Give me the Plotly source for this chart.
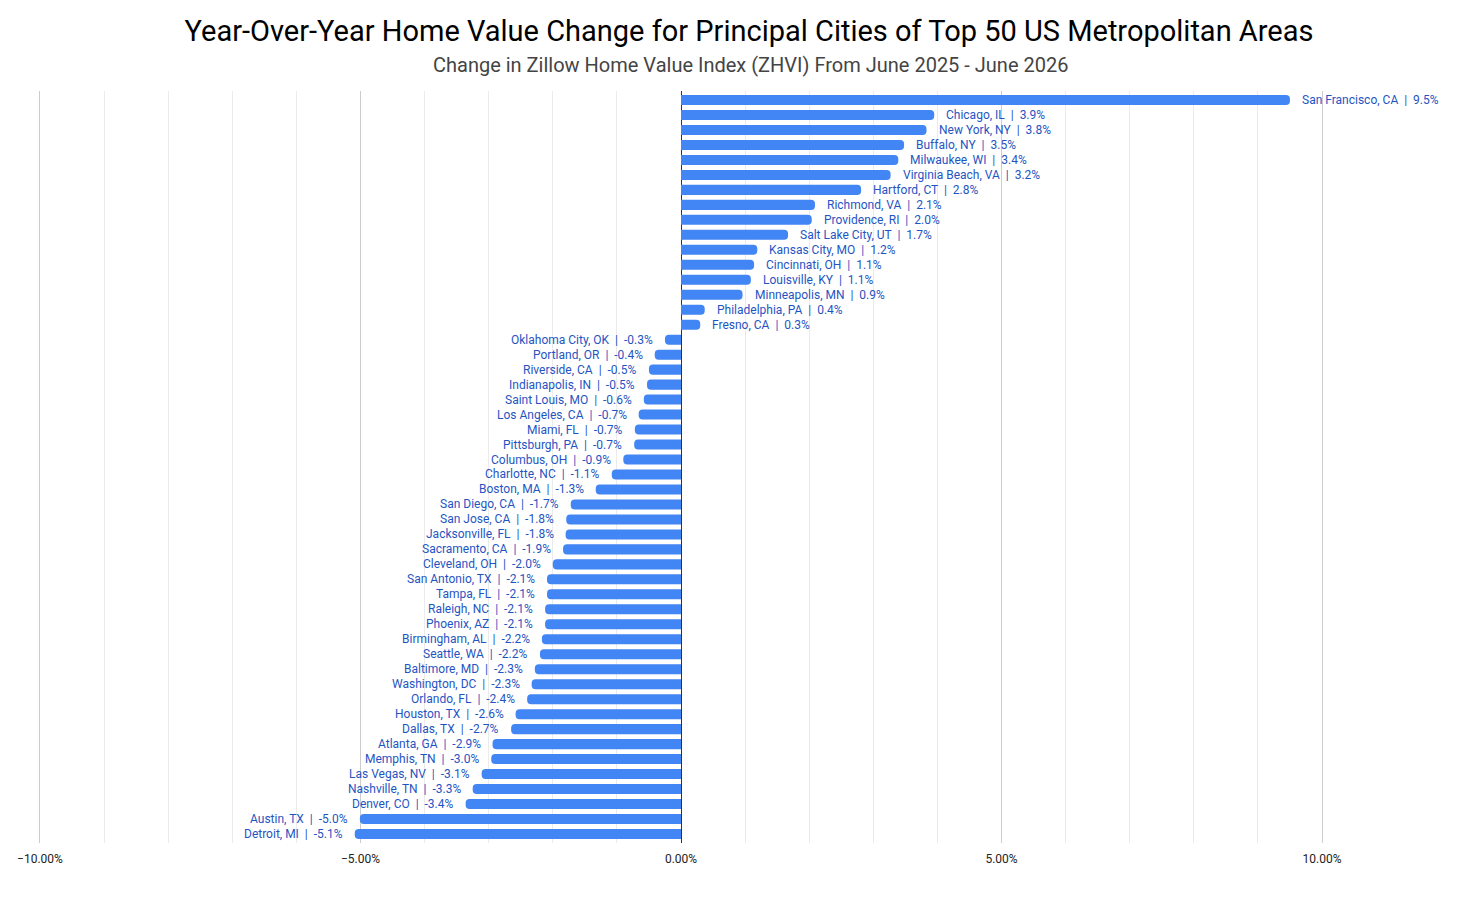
import plotly.graph_objects as go

cities = [
    "San Francisco, CA", "Chicago, IL", "New York, NY", "Buffalo, NY", "Milwaukee, WI",
    "Virginia Beach, VA", "Hartford, CT", "Richmond, VA", "Providence, RI", "Salt Lake City, UT",
    "Kansas City, MO", "Cincinnati, OH", "Louisville, KY", "Minneapolis, MN", "Philadelphia, PA",
    "Fresno, CA", "Oklahoma City, OK", "Portland, OR", "Riverside, CA", "Indianapolis, IN",
    "Saint Louis, MO", "Los Angeles, CA", "Miami, FL", "Pittsburgh, PA", "Columbus, OH",
    "Charlotte, NC", "Boston, MA", "San Diego, CA", "San Jose, CA", "Jacksonville, FL",
    "Sacramento, CA", "Cleveland, OH", "San Antonio, TX", "Tampa, FL", "Raleigh, NC",
    "Phoenix, AZ", "Birmingham, AL", "Seattle, WA", "Baltimore, MD", "Washington, DC",
    "Orlando, FL", "Houston, TX", "Dallas, TX", "Atlanta, GA", "Memphis, TN",
    "Las Vegas, NV", "Nashville, TN", "Denver, CO", "Austin, TX", "Detroit, MI",
]

# bar lengths (percent)
values = [
    9.50, 3.95, 3.83, 3.48, 3.39,
    3.27, 2.81, 2.09, 2.04, 1.67,
    1.19, 1.14, 1.09, 0.96, 0.37,
    0.30, -0.25, -0.41, -0.50, -0.53,
    -0.58, -0.66, -0.72, -0.73, -0.90,
    -1.08, -1.33, -1.72, -1.79, -1.80,
    -1.84, -2.00, -2.09, -2.09, -2.12,
    -2.12, -2.17, -2.20, -2.28, -2.33,
    -2.40, -2.58, -2.65, -2.94, -2.96,
    -3.11, -3.25, -3.36, -5.01, -5.09,
]

# displayed label percents
labels_pct = [
    "9.5", "3.9", "3.8", "3.5", "3.4",
    "3.2", "2.8", "2.1", "2.0", "1.7",
    "1.2", "1.1", "1.1", "0.9", "0.4",
    "0.3", "-0.3", "-0.4", "-0.5", "-0.5",
    "-0.6", "-0.7", "-0.7", "-0.7", "-0.9",
    "-1.1", "-1.3", "-1.7", "-1.8", "-1.8",
    "-1.9", "-2.0", "-2.1", "-2.1", "-2.1",
    "-2.1", "-2.2", "-2.2", "-2.3", "-2.3",
    "-2.4", "-2.6", "-2.7", "-2.9", "-3.0",
    "-3.1", "-3.3", "-3.4", "-5.0", "-5.1",
]

title = "Year-Over-Year Home Value Change for Principal Cities of Top 50 US Metropolitan Areas"
subtitle = "Change in Zillow Home Value Index (ZHVI) From June 2025 - June 2026"

BAR = "#4285F4"
LBL = "#1f55c2"
W, H = 1483, 909
ML, MR, MT, MB = 40, 161, 91, 66

fig = go.Figure()
fig.add_trace(go.Bar(
    x=values, y=cities, orientation="h",
    marker=dict(color=BAR, line=dict(width=0), cornerradius=4),
    hoverinfo="x+y",
))

for c, v, p in zip(cities, values, labels_pct):
    fig.add_annotation(
        x=v, y=c, xref="x", yref="y",
        text=f"{c}  |  {p}%",
        showarrow=False,
        xanchor="left" if v >= 0 else "right",
        xshift=10 if v >= 0 else -10,
        font=dict(family="Roboto", size=12, color=LBL),
    )

pw, ph = W - ML - MR, H - MT - MB
fig.add_annotation(
    x=(750 - ML) / pw, y=(H - 65 - MB) / ph, xref="paper", yref="paper",
    text=subtitle, showarrow=False, xanchor="center", yanchor="middle",
    font=dict(family="Roboto", size=20, color="#444444"),
)

fig.update_layout(
    width=W, height=H,
    margin=dict(l=ML, r=MR, t=MT, b=MB),
    paper_bgcolor="white", plot_bgcolor="white",
    bargap=0.33,
    showlegend=False,
    font=dict(family="Roboto", color="#222222"),
    title=dict(
        text=title, x=749 / W, xref="container", xanchor="center",
        y=1 - 31 / H, yref="container", yanchor="middle",
        font=dict(family="Roboto", size=29, color="#000000"),
    ),
)

fig.update_xaxes(
    range=[-10, 10], dtick=5, tick0=0,
    tickformat=".2f", ticksuffix="%",
    tickfont=dict(family="Roboto", size=12, color="#222222"),
    ticklabelstandoff=7,
    showgrid=True, gridcolor="#cccccc", gridwidth=1,
    minor=dict(dtick=1, showgrid=True, gridcolor="#ebebeb", gridwidth=1),
    zeroline=True, zerolinecolor="#333333", zerolinewidth=1,
    showline=False, ticks="", fixedrange=True,
)
fig.update_yaxes(
    categoryorder="array", categoryarray=cities, autorange="reversed",
    showticklabels=False, showgrid=False, zeroline=False, ticks="", fixedrange=True,
    showline=True, mirror=True, linecolor="#cccccc", linewidth=1,
)

fig.write_html("out.html", config={"displayModeBar": False})
